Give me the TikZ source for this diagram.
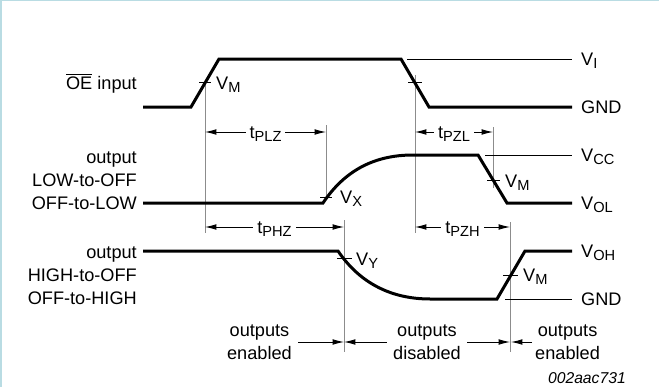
\documentclass[tikz,border=0pt]{standalone}
\usepackage{fontspec}
\setmainfont{Liberation Sans}
\usetikzlibrary{arrows.meta,calc}
\definecolor{edgeblue}{HTML}{B9DCE3}
\definecolor{guidegray}{HTML}{8C8C8C}
\newcommand{\subtxt}[2]{#1\raisebox{-0.09cm}{\fontsize{12.5}{14}\selectfont #2}}
\tikzset{
	wave/.style={line width=0.09cm, line join=miter},
	level/.style={line width=0.75pt},
	guideline/.style={line width=0.8pt, color=guidegray},
	tickmark/.style={line width=0.8pt},
	dimto/.style={line width=0.75pt, -{Latex[length=0.34cm, width=0.17cm]}},
	dimboth/.style={line width=0.75pt, {Latex[length=0.34cm, width=0.17cm]}-{Latex[length=0.34cm, width=0.17cm]}},
	lbl/.style={font=\fontsize{15.5}{19.6}\selectfont, inner sep=0pt},
	gaplbl/.style={lbl, fill=white, inner xsep=0.12cm, anchor=base, yshift=-0.18cm},
}

\begin{document}
\begin{tikzpicture}[x=0.03cm, y=-0.03cm]
		%%%%% START %%%%%
		
		\useasboundingbox (0,0) rectangle (659,387);
		\fill[edgeblue] (0,0) rectangle (2,387);
		\fill[edgeblue] (0,0) rectangle (659,1);
		
		% guide lines
		\draw[guideline] (205,80) coordinate (gOEr) -- (205,233);
		\draw[guideline] (415,75) coordinate (gOEf) -- (415,233);
		\draw[guideline] (326,125) -- (326,197) coordinate (gX);
		\draw[guideline] (493,127) -- (493,188) coordinate (gLo);
		\draw[guideline] (344,220) -- (344,352) coordinate (gY);
		\draw[guideline] (510,222) -- (510,352) coordinate (gHi);
		
		% OE input
		\draw[level] (407,59) -- (572,59);
		\draw[wave] (143,107) -- (191,107) -- (219,59) -- (401,59) -- (429,107) -- (572,107);
		\draw[tickmark] (199,82) -- (211,82);
		\draw[tickmark] (408,82) -- (422,82);
		\node[lbl, anchor=base west] (vm1) at (216,89) {\subtxt{V}{M}};
		\node[lbl, anchor=base west] (vi) at (581,65) {\subtxt{V}{I}};
		\node[lbl, anchor=base west] (gnd1) at (581,113) {GND};
		\node[lbl, anchor=base east] (oein) at (137,89) {$\overline{\mbox{OE}}$ input};
		
		% output LOW-to-OFF / OFF-to-LOW
		\draw[level] (485,155) -- (572,155);
		\draw[wave] (143,203) -- (323,203) .. controls (345,170) and (375,155) .. (413,155) -- (478,155) -- (507,203) -- (572,203);
		\draw[tickmark] (320,197) -- (332,197);
		\draw[tickmark] (487,180) -- (500,180);
		\node[lbl, anchor=base west] (vx) at (340,203) {\subtxt{V}{X}};
		\node[lbl, anchor=base west] (vm2) at (505,187) {\subtxt{V}{M}};
		\node[lbl, anchor=base west] (vcc) at (581,161) {\subtxt{V}{CC}};
		\node[lbl, anchor=base west] (vol) at (581,209) {\subtxt{V}{OL}};
		\node[lbl, anchor=base east] (lo1) at (137,163) {output};
		\node[lbl, anchor=base east] (lo2) at (137,186) {LOW-to-OFF};
		\node[lbl, anchor=base east] (lo3) at (137,209) {OFF-to-LOW};
		
		% output HIGH-to-OFF / OFF-to-HIGH
		\draw[level] (505,299) -- (572,299);
		\draw[wave] (143,251) -- (338,251) .. controls (349,267) and (375,299) .. (430,299) -- (497,299) -- (525,251) -- (572,251);
		\draw[tickmark] (337,258) -- (352,258);
		\draw[tickmark] (503,275) -- (518,275);
		\node[lbl, anchor=base west] (vy) at (356,265) {\subtxt{V}{Y}};
		\node[lbl, anchor=base west] (vm3) at (523,281) {\subtxt{V}{M}};
		\node[lbl, anchor=base west] (voh) at (581,257) {\subtxt{V}{OH}};
		\node[lbl, anchor=base west] (gnd2) at (581,305) {GND};
		\node[lbl, anchor=base east] (hi1) at (137,258) {output};
		\node[lbl, anchor=base east] (hi2) at (137,281) {HIGH-to-OFF};
		\node[lbl, anchor=base east] (hi3) at (137,304) {OFF-to-HIGH};
		
		% timing arrows
		\draw[dimboth] (gOEr |- 0,132) -- (gX |- 0,132) node[gaplbl, midway] (tplz) {\subtxt{t}{PLZ}};
		\draw[dimboth] (gOEf |- 0,132) -- (gLo |- 0,132) node[gaplbl, midway] (tpzl) {\subtxt{t}{PZL}};
		\draw[dimboth] (gOEr |- 0,227) -- (gY |- 0,227) node[gaplbl, midway] (tphz) {\subtxt{t}{PHZ}};
		\draw[dimboth] (gOEf |- 0,227) -- (gHi |- 0,227) node[gaplbl, midway] (tpzh) {\subtxt{t}{PZH}};
		
		% output states
		\node[lbl, align=center, anchor=east] (enL) at (292,342) {outputs\\enabled};
		\node[lbl, align=center, anchor=west] (enR) at (535,342) {outputs\\enabled};
		\draw[dimto] ($(enL.east)+(6,0)$) -- (gY |- enL.east);
		\draw[dimboth] (gY |- 0,342) -- (gHi |- 0,342) node[lbl, midway, align=center, fill=white, inner xsep=0.18cm] (dis) {outputs\\disabled};
		\draw[dimto] ($(enR.west)+(-3,0)$) -- ($(gHi |- enR.west)+(1,0)$);
		
		\node[lbl, font=\fontsize{13.4}{16}\selectfont\itshape, anchor=base east] (code) at (626,383) {002aac731};
		
		%%%%% END %%%%%
\end{tikzpicture}
\end{document}
